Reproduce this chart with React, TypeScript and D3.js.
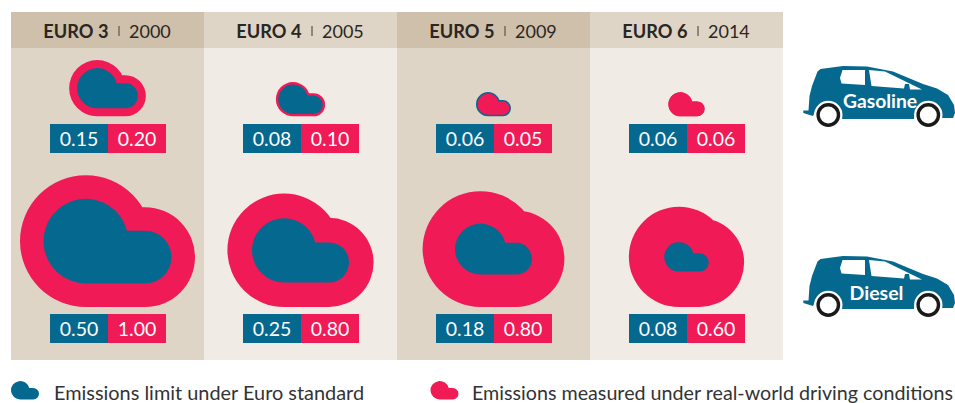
import React from 'react';
import * as d3 from 'd3';

const standards = ['EURO 3', 'EURO 4', 'EURO 5', 'EURO 6'];
const years = ['2000', '2005', '2009', '2014'];
const gasolineLimit = [0.15, 0.08, 0.06, 0.06];
const gasolineReal = [0.2, 0.1, 0.05, 0.06];
const dieselLimit = [0.5, 0.25, 0.18, 0.08];
const dieselReal = [1.0, 0.8, 0.8, 0.6];

const BLUE = '#05688f';
const RED = '#f01a56';
const FONT = 'Lato, sans-serif';

const width = 955;
const height = 403;

const x = d3.scaleBand().domain(standards).range([11, 783]);

// cloud area in px2 for an emission value (not quite linear in the original)
const areaScale = d3.scaleLinear()
  .domain([0.05, 0.06, 0.08, 0.1, 0.15, 0.18, 0.2, 0.25, 0.5, 0.6, 0.8, 1])
  .range([500, 640, 968, 1275, 1802, 2899, 3329, 4601, 8012, 9200, 13010, 17953]);

// unit cloud: area and perimeter for a width of 1
const UNIT_AREA = 0.489;
const UNIT_PERIM = 2.73;

function cloudPath(w: number, left: number, top: number) {
  const R = 0.331 * w;
  const r = 0.206 * w;
  const p = d3.path();
  const bigX = left + R;
  const bigY = top + R;
  const smallX = left + 0.794 * w;
  const smallY = top + 0.456 * w;
  p.moveTo(bigX, bigY + R);
  p.arc(bigX, bigY, R, Math.PI / 2, 2 * Math.PI - 0.2474);
  p.lineTo(smallX, smallY - r);
  p.arc(smallX, smallY, r, -Math.PI / 2, Math.PI / 2);
  p.closePath();
  return p.toString();
}

// the same cloud grown by an even band: two bigger circles and the box between them
function grownCloudPath(w: number, left: number, top: number, band: number) {
  const R = 0.331 * w;
  const r = 0.206 * w;
  const bigX = left + R;
  const bigY = top + R;
  const smallX = left + 0.794 * w;
  const smallY = top + 0.456 * w;
  const p = d3.path();
  p.moveTo(bigX + R + band, bigY);
  p.arc(bigX, bigY, R + band, 0, 2 * Math.PI);
  p.moveTo(smallX + r + band, smallY);
  p.arc(smallX, smallY, r + band, 0, 2 * Math.PI);
  p.rect(bigX, smallY - r - band, smallX - bigX, 2 * (r + band));
  return p.toString();
}

function Cloud({ limit, real, cx, bottom }: { limit: number; real: number; cx: number; bottom: number }) {
  const inner = Math.min(limit, real);
  const outer = Math.max(limit, real);
  const w = Math.sqrt(areaScale(inner) / UNIT_AREA);
  // grow the small cloud until its area is the big value's area
  const A = UNIT_AREA * w * w;
  const P = UNIT_PERIM * w;
  const band = (-P + Math.sqrt(P * P - 4 * Math.PI * (A - areaScale(outer)))) / (2 * Math.PI);
  const left = cx - w / 2;
  const top = bottom - band - 0.662 * w;
  const outerColor = limit > real ? BLUE : RED;
  const innerColor = limit < real ? BLUE : RED;
  return (
    <g>
      <path d={grownCloudPath(w, left, top, band)} fill={outerColor} />
      <path d={cloudPath(w, left, top)} fill={innerColor} />
    </g>
  );
}

function ValueBoxes({ limit, real, cx, top }: { limit: number; real: number; cx: number; top: number }) {
  const fmt = d3.format('.2f');
  return (
    <g fontFamily={FONT} fontSize={19.5} fill="#fff" textAnchor="middle">
      <rect x={cx - 57.5} y={top} width={58} height={29} fill={BLUE} />
      <rect x={cx + 0.5} y={top} width={58} height={29} fill={RED} />
      <text x={cx - 28.5} y={top + 21.5}>{fmt(limit)}</text>
      <text x={cx + 29.5} y={top + 21.5}>{fmt(real)}</text>
    </g>
  );
}

const bodyShape = 'M3.3,53 L3.3,50.5 L8.5,50.5 L9.5,36 L12,26 L17.5,11.5 L20.5,9 L43,6 L67,6.5 L93,11.5 L123,24 L137,28.5 L148,35 L154,45 L155,53 L153,58 L142,58 L142,54 A14.5,14.5 0 0 0 115,54 L114,59 L42,59 L42,54 A14.5,14.5 0 0 0 14,54 L13,56 Z';
const rearWindow = 'M42.5,10 L65,10 L65,25 L41.5,23.5 L40,18 Z';
const frontWindow = 'M69,10 L85,11.5 L122,29.5 L110,29.5 L109,24 L105,24 L104,28.5 L71.5,26 Z';

function Car({ label, top, labelX, labelY, size }: { label: string; top: number; labelX: number; labelY: number; size: number }) {
  return (
    <g transform={`translate(800,${top})`}>
      <path d={bodyShape} fill={BLUE} />
      <path d={rearWindow} fill="#fff" />
      <path d={frontWindow} fill="#fff" />
      {[28.3, 128.3].map(c => (
        <g key={c}>
          <circle cx={c} cy={55} r={14.2} fill="#fff" />
          <circle cx={c} cy={55} r={10.2} fill="#fff" stroke="#1a1a1a" strokeWidth={3.4} />
        </g>
      ))}
      <text x={labelX} y={labelY} fontFamily={FONT} fontWeight={700} fontSize={size} fill="#fff" textAnchor="middle">{label}</text>
    </g>
  );
}

export default function App() {
  return (
    <svg width={width} height={height} style={{ position: 'absolute', left: 0, top: 0 }}>
      {standards.map((s, i) => {
        const x0 = x(s)!;
        const bw = x.bandwidth();
        const cx = x0 + bw / 2;
        const dark = i % 2 === 0;
        return (
          <g key={s}>
            <rect x={x0} y={12} width={bw} height={36} fill={dark ? '#cfc0ab' : '#dfd5c6'} />
            <rect x={x0} y={48} width={bw} height={312} fill={dark ? '#dfd5c6' : '#f0ebe4'} />
            <text x={cx + 1} y={37.5} textAnchor="end" fontFamily={FONT} fontWeight={700} fontSize={18.2} fill="#2b2622">{s}</text>
            <line x1={cx + 11.5} x2={cx + 11.5} y1={26} y2={36} stroke="#6b645c" strokeWidth={1.4} />
            <text x={cx + 21.5} y={37.5} fontFamily={FONT} fontSize={18} fill="#2b2622">{years[i]}</text>
            <Cloud limit={gasolineLimit[i]} real={gasolineReal[i]} cx={cx} bottom={116.3} />
            <ValueBoxes limit={gasolineLimit[i]} real={gasolineReal[i]} cx={cx} top={124} />
            <Cloud limit={dieselLimit[i]} real={dieselReal[i]} cx={cx} bottom={307} />
            <ValueBoxes limit={dieselLimit[i]} real={dieselReal[i]} cx={cx} top={314} />
          </g>
        );
      })}
      <Car label="Gasoline" top={60} labelX={80} labelY={48} size={19.3} />
      <Car label="Diesel" top={250} labelX={76.5} labelY={50} size={19.5} />
      <path d={cloudPath(28, 11, 381)} fill={BLUE} />
      <text x={54} y={399.5} fontFamily={FONT} fontSize={19.9} fill="#333">Emissions limit under Euro standard</text>
      <path d={cloudPath(28, 430.5, 381)} fill={RED} />
      <text x={472} y={399.5} fontFamily={FONT} fontSize={19.7} fill="#333">Emissions measured under real-world driving conditions</text>
    </svg>
  );
}
